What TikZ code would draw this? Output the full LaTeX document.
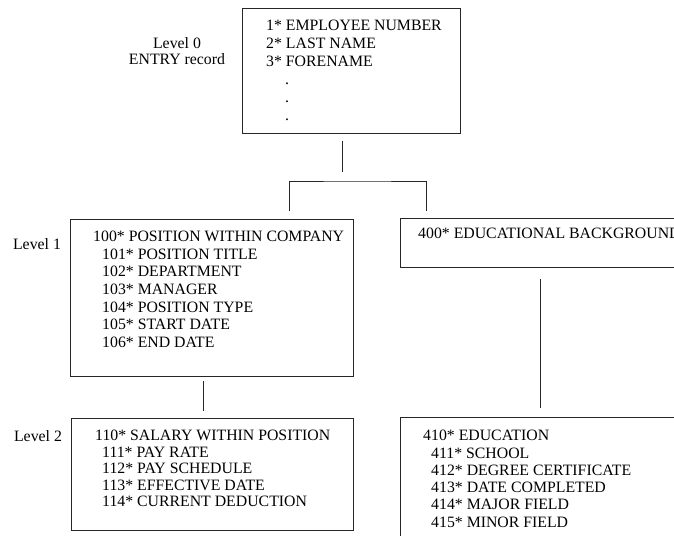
\documentclass[tikz,border=0pt]{standalone}
\usepackage{fontspec}
\setmainfont{Liberation Serif}
\usetikzlibrary{positioning}

\begin{document}
\begin{tikzpicture}[
    x=1pt, y=-1pt,
    record/.style={draw=black!85, line width=0.8pt, rectangle, anchor=north west, inner sep=0pt},
    fields/.style={anchor=north west, inner sep=0pt, align=left, font=\fontsize{15.8}{17.6}\selectfont},
    level/.style={align=center, font=\fontsize{15.8}{16.5}\selectfont},
    link/.style={draw=black!85, line width=0.8pt},
]
\useasboundingbox (0,0) rectangle (674,535);
\clip (0,0) rectangle (674,535);

% Level 0
\node[level] (lev0) at (177,51) {Level 0\\ENTRY record};
\node[record, minimum width=218, minimum height=125] (entry) at (242,8) {};
\node[fields, font=\fontsize{15.8}{18}\selectfont] (entrytxt) at (266,20) {1* EMPLOYEE NUMBER\\2* LAST NAME\\3* FORENAME\\\hspace*{19pt}.\\\hspace*{19pt}.\\\hspace*{19pt}.};

% Level 1
\node[level] (lev1) at (37,244) {Level 1};
\node[record, minimum width=283, minimum height=157] (position) at (70,219) {};
\node[fields] (positiontxt) at (93,231) {100* POSITION WITHIN COMPANY\\
  \hspace*{9pt}101* POSITION TITLE\\
  \hspace*{9pt}102* DEPARTMENT\\
  \hspace*{9pt}103* MANAGER\\
  \hspace*{9pt}104* POSITION TYPE\\
  \hspace*{9pt}105* START DATE\\
  \hspace*{9pt}106* END DATE};
\node[record, minimum width=320, minimum height=49] (background) at (400,218) {};
\node[fields] (backgroundtxt) at (418,228) {400* EDUCATIONAL BACKGROUND};

% Level 2
\node[level] (lev2) at (38,436) {Level 2};
\node[record, minimum width=282, minimum height=112] (salary) at (71,418) {};
\node[fields, font=\fontsize{15.8}{16.5}\selectfont] (salarytxt) at (95,430) {110* SALARY WITHIN POSITION\\
  \hspace*{7pt}111* PAY RATE\\
  \hspace*{7pt}112* PAY SCHEDULE\\
  \hspace*{7pt}113* EFFECTIVE DATE\\
  \hspace*{7pt}114* CURRENT DEDUCTION};
\node[record, minimum width=320, minimum height=150] (education) at (400,417) {};
\node[fields, font=\fontsize{15.8}{17.3}\selectfont] (educationtxt) at (423,430) {410* EDUCATION\\
  \hspace*{8pt}411* SCHOOL\\
  \hspace*{8pt}412* DEGREE CERTIFICATE\\
  \hspace*{8pt}413* DATE COMPLETED\\
  \hspace*{8pt}414* MAJOR FIELD\\
  \hspace*{8pt}415* MINOR FIELD};

% Connectors
\coordinate (e0) at (342,141);
\coordinate (e1) at (342,172);
\coordinate (split) at (357,181);
\coordinate (bl) at (289,211);
\coordinate (br) at (426,211);
\coordinate (p0) at (203,381);
\coordinate (p1) at (203,411);
\coordinate (b0) at (540,279);
\coordinate (b1) at (540,408);

\draw[link] (e0) -- (e1);
\draw[link] (bl) |- (split) -| (br);
\draw[link] (p0) -- (p1);
\draw[link] (b0) -- (b1);

\end{tikzpicture}
\end{document}
